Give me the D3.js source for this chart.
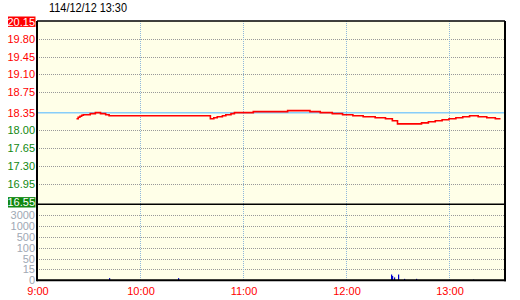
<!DOCTYPE html>
<html><head><meta charset="utf-8">
<script src="https://cdn.jsdelivr.net/npm/d3@7"></script>
<style>html,body{margin:0;padding:0;background:#fff;}svg{display:block;font-family:"Liberation Sans",Arial,sans-serif;}</style>
</head><body>
<script>
const title = "114/12/12 13:30";
const refPrice = 18.35;
const priceTicks = [20.15, 19.80, 19.45, 19.10, 18.75, 18.35, 18.00, 17.65, 17.30, 16.95, 16.55];
const volTicks = [0, 15, 50, 100, 500, 1000, 3000];
const timeTicks = ["09:00", "10:00", "11:00", "12:00", "13:00"];
const timeLabels = ["9:00", "10:00", "11:00", "12:00", "13:00"];
const priceTimes = ["09:23","09:24","09:25","09:26","09:27","09:31","09:34","09:37","09:40","09:42",
  "10:41","10:43","10:45","10:48","10:50","10:53","10:55","11:06","11:26","11:39","11:45","11:52",
  "11:58","12:04","12:10","12:17","12:23","12:27","12:30","12:44","12:48","12:52","12:56","13:00",
  "13:04","13:08","13:12","13:17","13:22","13:27","13:30"];
const priceValues = [18.23,18.26,18.28,18.30,18.31,18.33,18.35,18.33,18.31,18.29,
  18.23,18.25,18.27,18.29,18.31,18.33,18.35,18.37,18.39,18.37,18.35,18.33,
  18.31,18.29,18.27,18.25,18.23,18.19,18.13,18.15,18.17,18.19,18.21,18.23,
  18.25,18.27,18.29,18.27,18.25,18.23,18.23];
const volTimes = ["09:42","10:22","12:26","12:27","12:28","12:30","12:34","12:41","13:14"];
const volValues = [3, 3, 8, 6, 4, 8, 2, 2, 1];

const W = 520, H = 300;
const L = 37, R = 505, T = 21, MID = 204.3, B = 280.3;
const parse = d3.timeParse("%H:%M");

const svg = d3.select("body").append("svg").attr("width", W).attr("height", H);

const x = d3.scaleTime().domain([parse("09:00"), parse("13:30")]).range([L, 500.5]);
const y = d3.scaleLinear().domain([16.55, 20.15]).range([MID, T]);
const vStep = (B - 215.3) / (volTicks.length - 1);
const yv = d3.scaleLinear().domain(volTicks).range(volTicks.map((d, i) => B - i * vStep));

svg.append("rect").attr("x", L).attr("y", T).attr("width", R - L).attr("height", B - T).attr("fill", "#ffffe8");

svg.append("g").selectAll("line").data(priceTicks.slice(1, -1).filter(d => d !== refPrice)).join("line")
  .attr("x1", L).attr("x2", R).attr("y1", d => Math.round(y(d)) + 0.5).attr("y2", d => Math.round(y(d)) + 0.5)
  .attr("stroke", "#999").attr("stroke-dasharray", "1,1");
svg.append("g").selectAll("line").data(volTicks.slice(1)).join("line")
  .attr("x1", L).attr("x2", R).attr("y1", d => Math.round(yv(d)) + 0.5).attr("y2", d => Math.round(yv(d)) + 0.5)
  .attr("stroke", "#999").attr("stroke-dasharray", "1,1");
svg.append("g").selectAll("line").data(timeTicks.slice(1)).join("line")
  .attr("x1", d => Math.round(x(parse(d))) + 0.5).attr("x2", d => Math.round(x(parse(d))) + 0.5)
  .attr("y1", T).attr("y2", B)
  .attr("stroke", "#8fb8dc").attr("stroke-dasharray", "1,1");

svg.append("line").attr("x1", L).attr("x2", R).attr("y1", y(refPrice)).attr("y2", y(refPrice))
  .attr("stroke", "#87cefa").attr("stroke-width", 1.5);

const pts = priceTimes.map((t, i) => [parse(t), priceValues[i]]);
svg.append("path").datum(pts)
  .attr("d", d3.line().x(d => x(d[0])).y(d => y(d[1])).curve(d3.curveStepAfter))
  .attr("fill", "none").attr("stroke", "#ff0000").attr("stroke-width", 1.6);

svg.append("g").selectAll("rect").data(volTimes.map((t, i) => [parse(t), volValues[i]])).join("rect")
  .attr("x", d => Math.round(x(d[0]))).attr("width", 1.2)
  .attr("y", d => yv(d[1])).attr("height", d => B - yv(d[1]))
  .attr("fill", "#0000cc");

svg.append("line").attr("x1", L).attr("x2", R).attr("y1", T).attr("y2", T).attr("stroke", "#000").attr("stroke-width", 1.5);
svg.append("line").attr("x1", L).attr("x2", R + 1).attr("y1", MID).attr("y2", MID).attr("stroke", "#000").attr("stroke-width", 1.5);
svg.append("line").attr("x1", L).attr("x2", R + 1).attr("y1", B).attr("y2", B).attr("stroke", "#000").attr("stroke-width", 2);
svg.append("line").attr("x1", L).attr("x2", L).attr("y1", T).attr("y2", B + 1).attr("stroke", "#000").attr("stroke-width", 2);
svg.append("line").attr("x1", R).attr("x2", R).attr("y1", T).attr("y2", B + 1).attr("stroke", "#000").attr("stroke-width", 2);

svg.append("text").attr("x", 49).attr("y", 11.7).attr("font-size", 12).attr("fill", "#000")
  .attr("textLength", 78).attr("lengthAdjust", "spacingAndGlyphs").text(title);

const labelG = svg.append("g").attr("font-size", 11);
priceTicks.forEach((d, i) => {
  let cy = y(d);
  const first = i === 0, last = i === priceTicks.length - 1;
  if (last) cy -= 2;
  if (first) cy += 0.7;
  const col = d >= refPrice ? "#ff0000" : "#118811";
  if (first || last) {
    labelG.append("rect").attr("x", 8).attr("y", cy - 5.2).attr("width", 27.5).attr("height", 10.4)
      .attr("fill", first ? "#ff0000" : "#118811");
  }
  labelG.append("text").attr("x", 35).attr("y", cy).attr("dy", "0.36em").attr("text-anchor", "end")
    .attr("fill", (first || last) ? "#fff" : col).text(d.toFixed(2));
});
volTicks.forEach(d => {
  labelG.append("text").attr("x", 35).attr("y", yv(d)).attr("dy", "0.36em").attr("text-anchor", "end")
    .attr("fill", "#a0a8b4").text(d);
});
timeTicks.forEach((t, i) => {
  labelG.append("text").attr("x", x(parse(t)) + 1).attr("y", 295).attr("text-anchor", "middle")
    .attr("fill", "#ff0000").text(timeLabels[i]);
});
</script>
</body></html>
